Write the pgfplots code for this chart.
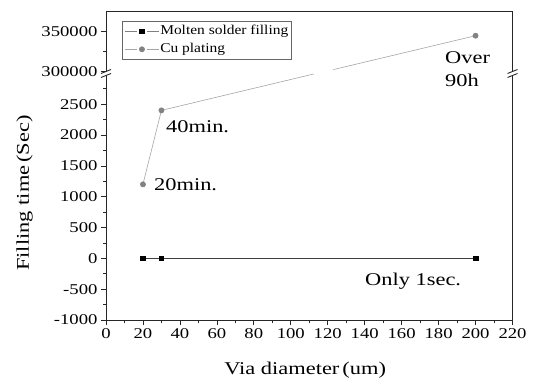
\documentclass[border=0pt]{standalone}
\usepackage{fontspec}
\setmainfont{Liberation Serif}[FakeStretch=1.25]
\newfontfamily\legfont{Liberation Serif}[FakeStretch=1.15]
\usepackage{pgfplots}
\pgfplotsset{compat=1.18}
\definecolor{cuc}{RGB}{130,130,130}
\definecolor{cul}{RGB}{165,165,165}
\begin{document}
\begin{tikzpicture}[x=1bp,y=1bp]
\useasboundingbox (0,0) rectangle (534,381);
\pgfplotsset{
 every axis/.append style={
  scale only axis, width=406.5bp, xmin=0, xmax=220,
  axis line style={line width=0.9bp, black!85},
  tick style={line width=0.7bp, black!85},
  major tick length=5bp, minor tick length=3bp,
  xtick align=outside, ytick align=outside,
  ticklabel style={font=\fontsize{15}{15}\selectfont},
  /pgf/number format/assume math mode=true,
  /pgf/number format/fixed,
  /pgf/number format/precision=0,
  /pgf/number format/1000 sep={},
  scaled y ticks=false,
  clip mode=individual,
 },
}
\begin{axis}[
  at={(106bp,61bp)}, anchor=south west,
  height=246bp,
  ymin=-1000, ymax=2990,
  axis x line*=bottom, axis y line*=box,
  xtick={0,20,...,220}, minor x tick num=1,
  ytick={-1000,-500,...,2500}, minor y tick num=1,
  extra y ticks={2750}, extra y tick labels={},
  extra y tick style={major tick length=3bp},
  xtick pos=bottom, ytick pos=left,
  xlabel={Via diameter\,(um)}, ylabel={Filling time\,(Sec)},
  label style={font=\fontsize{18}{18}\selectfont},
  xlabel style={at={(axis description cs:0.49,-0.203)}, anchor=center},
  ylabel style={at={(axis description cs:-0.2,0.516)}, anchor=center},
]
\addplot[black!75, line width=0.6bp, mark=square*, mark options={black, solid}, mark size=2.3bp]
  coordinates {(20,1) (30,1) (200,1)};
\addplot[cul, line width=0.6bp, mark=*, mark options={fill=cuc, draw=cuc}, mark size=2.6bp, mark indices={1,2}]
  coordinates {(20,1200) (30,2400) (112.4,2990)};
\end{axis}
\begin{axis}[
  at={(106bp,307bp)}, anchor=south west, height=63bp,
  ymin=296900, ymax=376000,
  axis x line*=top, axis y line*=box,
  xtick=\empty, ytick={300000,350000}, minor y tick num=1, ytick pos=left,
  legend style={at={(0.039,0.841)}, anchor=north west, draw=black!60, line width=0.6bp,
    font=\legfont\fontsize{13.5}{14}\selectfont, inner sep=2.5bp, row sep=3bp,
    nodes={inner sep=1bp, text height=10bp, text depth=3bp},
    cells={anchor=west}},
  legend image code/.code={%
    \draw[#1] (0bp,0bp) -- (12bp,0bp);
    \draw[#1] (22bp,0bp) -- (34bp,0bp);
    \draw[#1, mark indices={1}] plot coordinates {(17bp,0bp)};},
]
\addlegendimage{gray, line width=0.6bp, mark=square*, mark options={black, solid}, mark size=2.2bp}
\addlegendentry{Molten solder filling}
\addplot[cul, line width=0.6bp, mark=*, mark options={fill=cuc, draw=cuc}, mark size=2.6bp, mark indices={2}]
  coordinates {(123.0,302420) (200,345000)};
\addlegendentry{Cu plating}
\end{axis}
\foreach \bx/\by in {106/308, 512.5/308} {
  \fill[white] (\bx-2.5,\by-3.5) -- (\bx+2.5,\by-1.5) -- (\bx+2.5,\by+2.5) -- (\bx-2.5,\by+0.5) -- cycle;
  \draw[line width=0.9bp, black!85] (\bx-5,\by-4.5) -- (\bx+5,\by-0.5);
  \draw[line width=0.9bp, black!85] (\bx-5,\by-0.5) -- (\bx+5,\by+3.5);
}
\begin{scope}[every node/.style={anchor=base west, inner sep=0pt, font=\fontsize{18}{18}\selectfont}]
\node at (154,190.5) {20min.};
\node at (166,249) {40min.};
\node at (445,317.7) {Over};
\node at (445,294.3) {90h};
\node at (365,96) {Only 1sec.};
\end{scope}
\end{tikzpicture}
\end{document}
